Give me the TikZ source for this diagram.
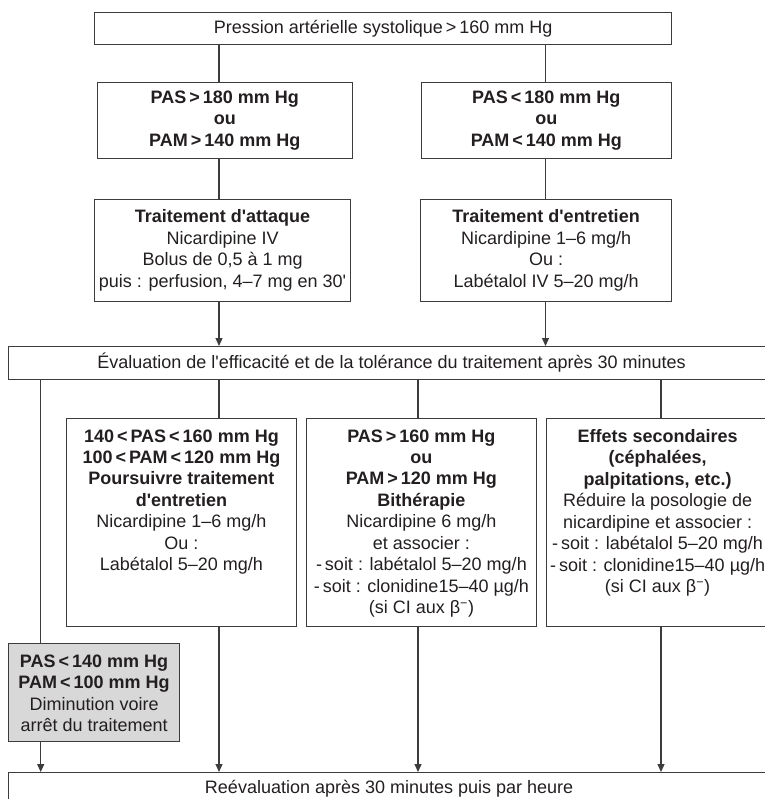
\documentclass[tikz,border=0pt]{standalone}
\usepackage{fontspec}
\setmainfont{Liberation Sans}
\usetikzlibrary{arrows.meta}
\definecolor{lin}{RGB}{60,60,60}
\definecolor{txt}{RGB}{35,31,32}
\definecolor{greyfill}{RGB}{216,216,216}
\newcommand{\sq}{\textquotesingle}
\begin{document}
\begin{tikzpicture}[x=1pt,y=-1pt,
  every node/.style={font=\fontsize{18}{21.45}\selectfont, text=txt},
  box/.style={draw=lin, line width=1.2pt, rectangle, inner sep=0pt, anchor=north west, align=center},
  conn/.style={draw=lin, line width=1.2pt},
  arr/.style={conn, -{Triangle[length=8pt,width=7pt]}},
  lbl/.style={align=center, inner sep=0pt, anchor=north}]

\useasboundingbox (0,0) rectangle (764,799);

% column coordinates
\coordinate (xa) at (219,0);
\coordinate (xb) at (545.5,0);
\coordinate (xc) at (418,0);
\coordinate (xd) at (661,0);
\coordinate (xe) at (40.7,0);

% boxes
\node[box, minimum width=577pt, minimum height=32pt] (top) at (94,12)
  {Pression artérielle systolique\,>\,160 mm Hg};

\node[box, minimum width=255.5pt, minimum height=76.3pt] (pas1) at (96.5,81.7)
  {\textbf{PAS\,>\,180 mm Hg}\\\textbf{ou}\\\textbf{PAM\,>\,140 mm Hg}};
\node[box, minimum width=250.5pt, minimum height=76.3pt] (pas2) at (420.5,81.7)
  {\textbf{PAS\,<\,180 mm Hg}\\\textbf{ou}\\\textbf{PAM\,<\,140 mm Hg}};

\node[box, minimum width=256pt, minimum height=101.7pt] (att) at (94,199)
  {\textbf{Traitement d\sq attaque}\\Nicardipine IV\\Bolus de 0,5 à 1 mg\\puis : perfusion, 4–7 mg en 30\sq};
\node[box, minimum width=251pt, minimum height=101.7pt] (ent) at (420,199)
  {\textbf{Traitement d\sq entretien}\\Nicardipine 1–6 mg/h\\Ou :\\Labétalol IV 5–20 mg/h};

\node[box, minimum width=766pt, minimum height=32.7pt] (eval) at (8,346)
  {Évaluation de l\sq efficacité et de la tolérance du traitement après 30 minutes};

\node[box, minimum width=229.6pt, minimum height=208pt] (s1) at (66,418) {};
\node[box, minimum width=229.6pt, minimum height=208pt] (s2) at (306,418) {};
\node[box, minimum width=222pt, minimum height=208pt] (s3) at (546,418) {};

\node[lbl] (t1) at ([yshift=-11.3pt]s1.north)
  {\textbf{140\,<\,PAS\,<\,160 mm Hg}\\\textbf{100\,<\,PAM\,<\,120 mm Hg}\\\textbf{Poursuivre traitement}\\\textbf{d\sq entretien}\\Nicardipine 1–6 mg/h\\Ou :\\Labétalol 5–20 mg/h};
\node[lbl] (t2) at ([yshift=-11.3pt]s2.north)
  {\textbf{PAS\,>\,160 mm Hg}\\\textbf{ou}\\\textbf{PAM\,>\,120 mm Hg}\\\textbf{Bithérapie}\\Nicardipine 6 mg/h\\et associer :\\-\,soit : labétalol 5–20 mg/h\\-\,soit : clonidine15–40 µg/h\\(si CI aux β\textsuperscript{−})};
\node[lbl] (t3) at ([yshift=-11.3pt]s3.north)
  {\textbf{Effets secondaires}\\\textbf{(céphalées,}\\\textbf{palpitations, etc.)}\\Réduire la posologie de\\nicardipine et associer :\\-\,soit : labétalol 5–20 mg/h\\-\,soit : clonidine15–40 µg/h\\(si CI aux β\textsuperscript{−})};

\node[box, fill=greyfill, minimum width=171pt, minimum height=98pt] (grey) at (8,643) {};
\node[lbl] (tg) at ([yshift=-11.6pt]grey.north)
  {\textbf{PAS\,<\,140 mm Hg}\\\textbf{PAM\,<\,100 mm Hg}\\Diminution voire\\arrêt du traitement};

\node[box, minimum width=761pt, minimum height=33pt] (bot) at (8,772)
  {Reévaluation après 30 minutes puis par heure};

% connectors
\draw[conn] (top.south -| xa) -- (pas1.north -| xa);
\draw[conn] (top.south -| xb) -- (pas2.north -| xb);
\draw[conn] (pas1.south -| xa) -- (att.north -| xa);
\draw[conn] (pas2.south -| xb) -- (ent.north -| xb);
\draw[arr] (att.south -| xa) -- (eval.north -| xa);
\draw[arr] (ent.south -| xb) -- (eval.north -| xb);

\draw[conn] (eval.south -| xa) -- (s1.north -| xa);
\draw[conn] (eval.south -| xc) -- (s2.north -| xc);
\draw[conn] (eval.south -| xd) -- (s3.north -| xd);
\draw[conn] (eval.south -| xe) -- (grey.north -| xe);

\draw[arr] (grey.south -| xe) -- (bot.north -| xe);
\draw[arr] (s1.south -| xa) -- (bot.north -| xa);
\draw[arr] (s2.south -| xc) -- (bot.north -| xc);
\draw[arr] (s3.south -| xd) -- (bot.north -| xd);
\end{tikzpicture}
\end{document}
